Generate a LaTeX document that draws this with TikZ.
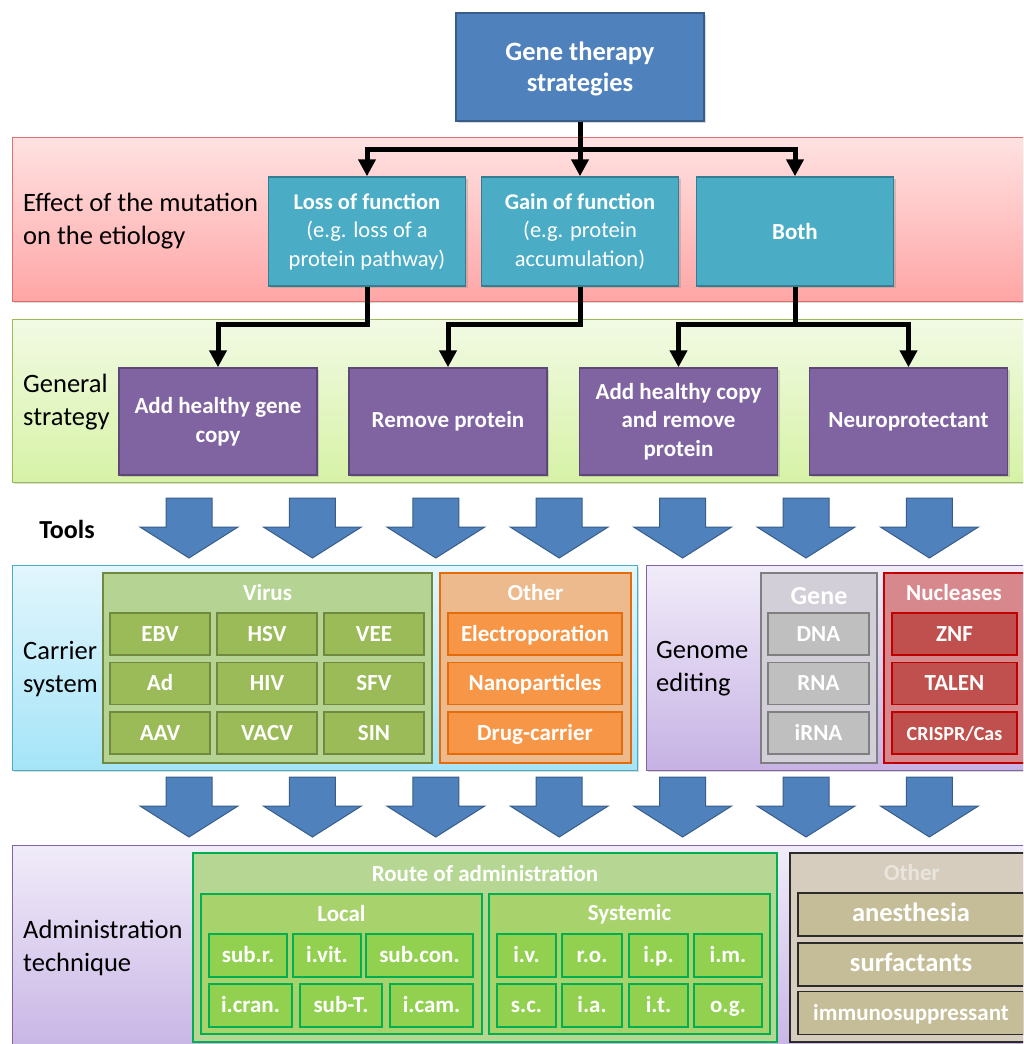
\documentclass[tikz,border=0pt]{standalone}
\usepackage{fontspec}
\setmainfont{Carlito}
\usetikzlibrary{arrows.meta,shadows}

\definecolor{topblue}{HTML}{4F81BD}
\definecolor{topblueb}{HTML}{385D8A}
\definecolor{redtop}{RGB}{255,226,226}
\definecolor{redbot}{RGB}{255,166,166}
\definecolor{redb}{RGB}{226,110,110}
\definecolor{teal}{HTML}{4BACC6}
\definecolor{tealb}{HTML}{357D91}
\definecolor{greentop}{RGB}{242,250,228}
\definecolor{greenbot}{RGB}{214,242,166}
\definecolor{greenb}{HTML}{9BBB59}
\definecolor{violet}{HTML}{8064A2}
\definecolor{violetb}{HTML}{5C4776}
\definecolor{cyantop}{RGB}{226,246,253}
\definecolor{cyanbot}{RGB}{165,228,248}
\definecolor{lilactop}{RGB}{241,236,249}
\definecolor{lilacbot}{RGB}{198,178,228}
\definecolor{virusbg}{RGB}{181,212,148}
\definecolor{virus}{HTML}{9BBB59}
\definecolor{virusb}{HTML}{71893F}
\definecolor{orangebg}{RGB}{236,186,141}
\definecolor{orange}{HTML}{F79646}
\definecolor{orangeb}{HTML}{E46C0A}
\definecolor{genebg}{RGB}{211,207,217}
\definecolor{gene}{HTML}{BFBFBF}
\definecolor{geneb}{HTML}{7F7F7F}
\definecolor{nuclbg}{RGB}{214,136,141}
\definecolor{nucl}{HTML}{C0504D}
\definecolor{nuclb}{HTML}{C00000}
\definecolor{routebg}{RGB}{182,215,148}
\definecolor{localbg}{RGB}{168,211,108}
\definecolor{route}{HTML}{92D050}
\definecolor{routeb}{HTML}{00B050}
\definecolor{otherbg}{RGB}{214,205,190}
\definecolor{other}{HTML}{C4BD97}
\definecolor{otherb}{HTML}{2B2B2B}
\definecolor{othertxt}{RGB}{234,229,220}

\begin{document}
\begin{tikzpicture}[x=1pt,y=-1pt,
  box/.style={draw,line width=1.5pt,inner sep=0pt,align=center,text=white,
    font=\fontsize{23}{28.5}\selectfont\bfseries},
  shade/.style={drop shadow={opacity=0.3,shadow xshift=2pt,shadow yshift=-2pt}},
  cell/.style={box,minimum height=42pt,text height=18.5pt,text depth=4.5pt},
  band/.style={line width=1pt,shade},
  bandlabel/.style={anchor=west,align=left,inner sep=0pt,font=\fontsize{26.5}{33}\selectfont},
  grouptitle/.style={inner sep=0pt,text=white,font=\fontsize{23}{28}\selectfont\bfseries},
  conn/.style={line width=5pt,line join=miter,-{Triangle[width=17pt,length=17pt]}},
  blockarrow/.style={fill=topblue,draw=topblueb,line width=1pt},
]

\useasboundingbox (0,0) rectangle (1023,1044);
\clip (0,0) rectangle (1023,1044);

% Top box
\node[box,shade,fill=topblue,draw=topblueb,minimum width=248pt,minimum height=108pt,
  font=\fontsize{26.5}{31}\selectfont\bfseries] (gts) at (580,67) {\rule{0pt}{22pt}Gene therapy\\strategies};

% Effect of the mutation
\draw[band,draw=redb,top color=redtop,bottom color=redbot] (12,137) rectangle (1040,301);
\node[bandlabel] (effect) at (23,221) {Effect of the mutation\\on the etiology};
\node[box,shade,fill=teal,draw=tealb,minimum width=197pt,minimum height=109pt,
  font=\fontsize{22.5}{28.5}\selectfont] (loss) at (367,231.5)
  {\textbf{Loss of function}\\(e.g. loss of a\\protein pathway)};
\node[box,shade,fill=teal,draw=tealb,minimum width=197pt,minimum height=109pt,
  font=\fontsize{22.5}{28.5}\selectfont] (gain) at (580,231.5)
  {\textbf{Gain of function}\\(e.g. protein\\accumulation)};
\node[box,shade,fill=teal,draw=tealb,minimum width=197pt,minimum height=109pt] (both) at (795,231.5) {Both};

% General strategy
\draw[band,draw=greenb,top color=greentop,bottom color=greenbot] (12,319) rectangle (1040,482);
\node[bandlabel] (general) at (23,402) {General\\strategy};
\node[box,shade,fill=violet,draw=violetb,minimum width=198pt,minimum height=107pt] (addgene) at (218,421.5) {Add healthy gene\\copy};
\node[box,shade,fill=violet,draw=violetb,minimum width=198pt,minimum height=107pt] (remove) at (448,421.5) {Remove protein};
\node[box,shade,fill=violet,draw=violetb,minimum width=198pt,minimum height=107pt] (addrem) at (678.5,421.5) {Add healthy copy\\and remove\\protein};
\node[box,shade,fill=violet,draw=violetb,minimum width=198pt,minimum height=107pt] (neuro) at (908.5,421.5) {Neuroprotectant};

% Connectors
\draw[conn] (gts.south) |- ([yshift=27pt]loss.north) -- (loss.north);
\draw[conn] (gts.south) -- (gain.north);
\draw[conn] (gts.south) |- ([yshift=27pt]both.north) -- (both.north);
\draw[conn] (loss.south) |- ([yshift=43pt]addgene.north) -- (addgene.north);
\draw[conn] (gain.south) |- ([yshift=43pt]remove.north) -- (remove.north);
\draw[conn] (both.south) |- ([yshift=43pt]addrem.north) -- (addrem.north);
\draw[conn] (both.south) |- ([yshift=43pt]neuro.north) -- (neuro.north);

% Tools and block arrows
\node[inner sep=0pt,font=\fontsize{26}{30}\selectfont\bfseries] (tools) at (67,529) {Tools};
\foreach \r in {498,777}
\foreach \k in {0,...,6}
\draw[blockarrow] ({189+123.4*\k-23},\r) -- ++(46,0) -- ++(0,29) -- ++(26,0)
  -- ++(-49,31) -- ++(-49,-31) -- ++(26,0) -- cycle;

% Carrier system
\draw[band,draw=teal,top color=cyantop,bottom color=cyanbot] (12,565) rectangle (637,770);
\node[bandlabel] (carrier) at (23,669) {Carrier\\system};
\draw[line width=1.5pt,draw=virusb,fill=virusbg] (103,573) rectangle (432,763);
\node[grouptitle] (virus) at (267.5,593) {Virus};
\foreach \name [count=\i from 0] in {EBV,HSV,VEE,Ad,HIV,SFV,AAV,VACV,SIN} {
  \pgfmathtruncatemacro{\col}{mod(\i,3)}
  \pgfmathtruncatemacro{\row}{div(\i,3)}
  \node[cell,fill=virus,draw=virusb,minimum width=100pt] (v\i) at ({160+107*\col},{634+49.5*\row}) {\name};
}
\draw[line width=1.5pt,draw=orangeb,fill=orangebg] (440,573) rectangle (631,763);
\node[grouptitle] (otherc) at (535.5,593) {Other};
\node[cell,fill=orange,draw=orangeb,minimum width=174pt] (electro) at (535,634) {Electroporation};
\node[cell,fill=orange,draw=orangeb,minimum width=174pt] (nano) at (535,683.5) {Nanoparticles};
\node[cell,fill=orange,draw=orangeb,minimum width=174pt] (drug) at (535,733) {Drug-carrier};

% Genome editing
\draw[band,draw=violet,top color=lilactop,bottom color=lilacbot] (646,565) rectangle (1040,770);
\node[bandlabel] (genome) at (656,669) {Genome\\editing};
\draw[line width=1.5pt,draw=geneb,fill=genebg] (761,573) rectangle (877,763);
\node[grouptitle,font=\fontsize{26}{30}\selectfont\bfseries] (genet) at (819,596) {Gene};
\node[cell,fill=gene,draw=geneb,minimum width=101pt] (dna) at (818.5,634) {DNA};
\node[cell,fill=gene,draw=geneb,minimum width=101pt] (rna) at (818.5,683.5) {RNA};
\node[cell,fill=gene,draw=geneb,minimum width=101pt] (irna) at (818.5,733) {iRNA};
\draw[line width=1.5pt,draw=nuclb,fill=nuclbg] (884,573) rectangle (1040,763);
\node[grouptitle] (nucleases) at (954,593) {Nucleases};
\node[cell,fill=nucl,draw=nuclb,minimum width=125pt] (znf) at (954.5,634) {ZNF};
\node[cell,fill=nucl,draw=nuclb,minimum width=125pt] (talen) at (954.5,683.5) {TALEN};
\node[cell,fill=nucl,draw=nuclb,minimum width=125pt,font=\fontsize{20}{24}\selectfont\bfseries] (crispr) at (954.5,733) {CRISPR/Cas};

% Administration technique
\draw[band,draw=violet,top color=lilactop,bottom color=lilacbot] (12,845) rectangle (1040,1060);
\node[bandlabel] (admin) at (23,948) {Administration\\technique};
\draw[line width=1.5pt,draw=routeb,fill=routebg] (193,853) rectangle (777,1042);
\node[grouptitle] (route) at (485,873) {Route of administration};
\draw[line width=1.5pt,draw=routeb,fill=localbg] (201,894) rectangle (482,1034);
\node[grouptitle] (local) at (341.5,914) {Local};
\draw[line width=1.5pt,draw=routeb,fill=localbg] (489,894) rectangle (770,1034);
\node[grouptitle] (systemic) at (629.5,914) {Systemic};
\node[cell,fill=route,draw=routeb,minimum width=78pt,minimum height=43pt] (subr) at (248,955.5) {sub.r.};
\node[cell,fill=route,draw=routeb,minimum width=68pt,minimum height=43pt] (ivit) at (327,955.5) {i.vit.};
\node[cell,fill=route,draw=routeb,minimum width=107pt,minimum height=43pt] (subcon) at (419.5,955.5) {sub.con.};
\node[cell,fill=route,draw=routeb,minimum width=83pt,minimum height=43pt] (icran) at (250.5,1005.5) {i.cran.};
\node[cell,fill=route,draw=routeb,minimum width=82pt,minimum height=43pt] (subt) at (341,1005.5) {sub-T.};
\node[cell,fill=route,draw=routeb,minimum width=83pt,minimum height=43pt] (icam) at (431.5,1005.5) {i.cam.};
\foreach \top/\bot/\x/\w in {i.v./s.c./526.5/59, r.o./i.a./592/60, i.p./i.t./658.5/59, i.m./o.g./728/68} {
  \node[cell,fill=route,draw=routeb,minimum width=\w pt,minimum height=43pt] at (\x,955.5) {\top};
  \node[cell,fill=route,draw=routeb,minimum width=\w pt,minimum height=43pt] at (\x,1005.5) {\bot};
}
\draw[line width=1.5pt,draw=otherb,fill=otherbg] (790,853) rectangle (1034,1042);
\node[grouptitle,text=othertxt] (othera) at (912,873) {Other};
\node[cell,fill=other,draw=otherb,minimum width=226pt,minimum height=43pt,font=\fontsize{26.5}{30}\selectfont\bfseries] (anest) at (911,914.5) {anesthesia};
\node[cell,fill=other,draw=otherb,minimum width=226pt,minimum height=43pt,font=\fontsize{26.5}{30}\selectfont\bfseries] (surf) at (911,964.5) {surfactants};
\node[cell,fill=other,draw=otherb,minimum width=226pt,minimum height=43pt] (immuno) at (911,1013) {immunosuppressant};

\end{tikzpicture}
\end{document}
